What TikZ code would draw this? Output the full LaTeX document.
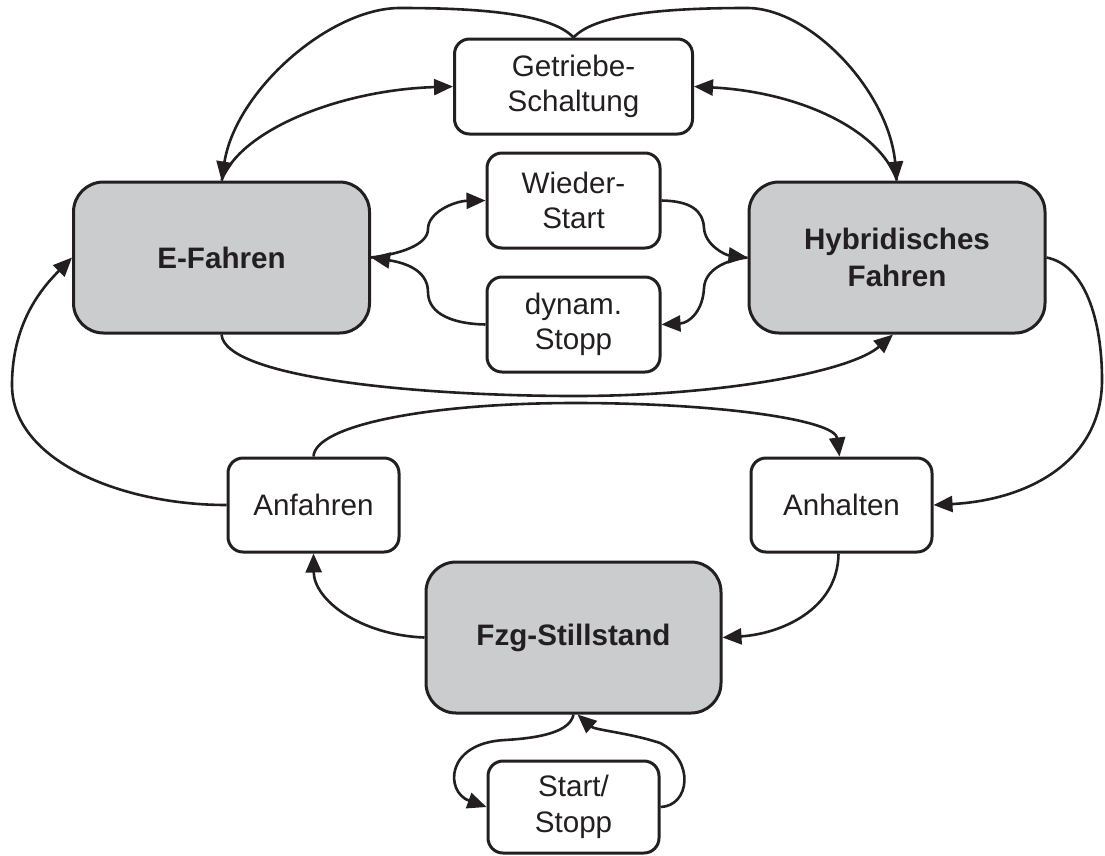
\documentclass[tikz,border=0pt]{standalone}
\usepackage{fontspec}
\setmainfont{Liberation Sans}
\usetikzlibrary{arrows.meta}
\definecolor{ink}{HTML}{231F20}
\definecolor{stategray}{HTML}{CBCCCE}

\begin{document}
\begin{tikzpicture}[x=1pt,y=-1pt,
  every node/.style={font=\fontsize{29.6}{35.5}\selectfont, text=ink},
  subbox/.style={draw=ink, line width=3pt, fill=white, rounded corners=15pt,
    align=center, inner sep=0pt, minimum width=173pt, minimum height=95pt},
  statebox/.style={draw=ink, line width=3pt, fill=stategray, rounded corners=30pt,
    align=center, inner sep=0pt, minimum width=296pt, minimum height=151pt,
    font=\fontsize{29.6}{36.5}\selectfont\bfseries},
  link/.style={draw=ink, line width=2.6pt},
  tip/.style={-{Triangle[length=19pt,width=16pt]}}
]
\useasboundingbox (0,0) rectangle (1105,855);

% operating states
\node[statebox] (ef) at (221.5,257.5) {E-Fahren};
\node[statebox] (hf) at (897,257.5) {Hybridisches\\Fahren};
\node[statebox, minimum width=295pt] (fs) at (573.5,637.5) {Fzg-Stillstand};

% transitions
\node[subbox, minimum width=238pt] (gs) at (573.5,86.5) {Getriebe-\\Schaltung};
\node[subbox] (ws) at (573.5,200.5) {Wieder-\\Start};
\node[subbox] (ds) at (573.5,324.5) {dynam.\\Stopp};
\node[subbox, minimum width=171pt, minimum height=94pt] (an) at (313.5,505) {Anfahren};
\node[subbox, minimum width=181pt, minimum height=94pt] (ah) at (841.5,505) {Anhalten};
\node[subbox, minimum width=171pt, minimum height=92pt] (ss) at (573.5,807) {Start/\\Stopp};

% gear shift loops
\draw[link,tip] (gs.north) .. controls (550,12) and (470,8) .. (400,8)
  .. controls (330,8) and (236,90) .. (ef.north);
\draw[link,tip] (ef.north) .. controls (240,130) and (340,90) .. (gs.west);
\draw[link,tip] (gs.north) .. controls (597,12) and (677,8) .. (747,8)
  .. controls (810,8) and (888,90) .. (hf.north);
\draw[link,tip] (hf.north) .. controls (880,130) and (800,92) .. (gs.east);

% restart / dynamic stop
\draw[link,tip] (ef.east) .. controls (400,254) and (428,245) .. (428,229)
  .. controls (428,212) and (455,201) .. (ws.west);
\draw[link,tip] (ds.west) .. controls (455,324) and (428,315) .. (428,292)
  .. controls (428,268) and (400,262) .. (ef.east);
\draw[link,tip] (ws.east) .. controls (690,201) and (703,210) .. (704,228)
  .. controls (705,245) and (725,255) .. (hf.west);
\draw[link,tip] (hf.west) .. controls (725,260) and (705,270) .. (704,288)
  .. controls (703,310) and (690,323) .. (ds.east);

% long transitions
\draw[link,tip] (ef.south) .. controls (225,378) and (420,396) .. (575,396)
  .. controls (720,396) and (850,372) .. ([xshift=-4pt]hf.south);
\draw[link,tip] (an.north) .. controls (315,425) and (430,403) .. (575,403)
  .. controls (720,403) and (835,420) .. ([xshift=-2pt]ah.north);
\draw[link,tip] (an.west) .. controls (120,505) and (12,460) .. (12,385)
  .. controls (12,320) and (45,285) .. (ef.west);
\draw[link,tip] (hf.east) .. controls (1085,265) and (1102,320) .. (1102,380)
  .. controls (1102,460) and (1030,500) .. (ah.east);

% standstill
\draw[link,tip] ([xshift=-3pt]ah.south) .. controls (838,610) and (780,634) .. (fs.east);
\draw[link,tip] (fs.west) .. controls (360,635) and (314,600) .. (an.south);
\draw[link,tip] (fs.south) .. controls (570,732) and (540,738) .. (505,740)
  .. controls (445,743) and (445,792) .. (ss.west);
\draw[link,tip] (ss.east) .. controls (690,806) and (695,760) .. (660,743)
  .. controls (630,733) and (595,730) .. ([xshift=4pt]fs.south);
\end{tikzpicture}
\end{document}
